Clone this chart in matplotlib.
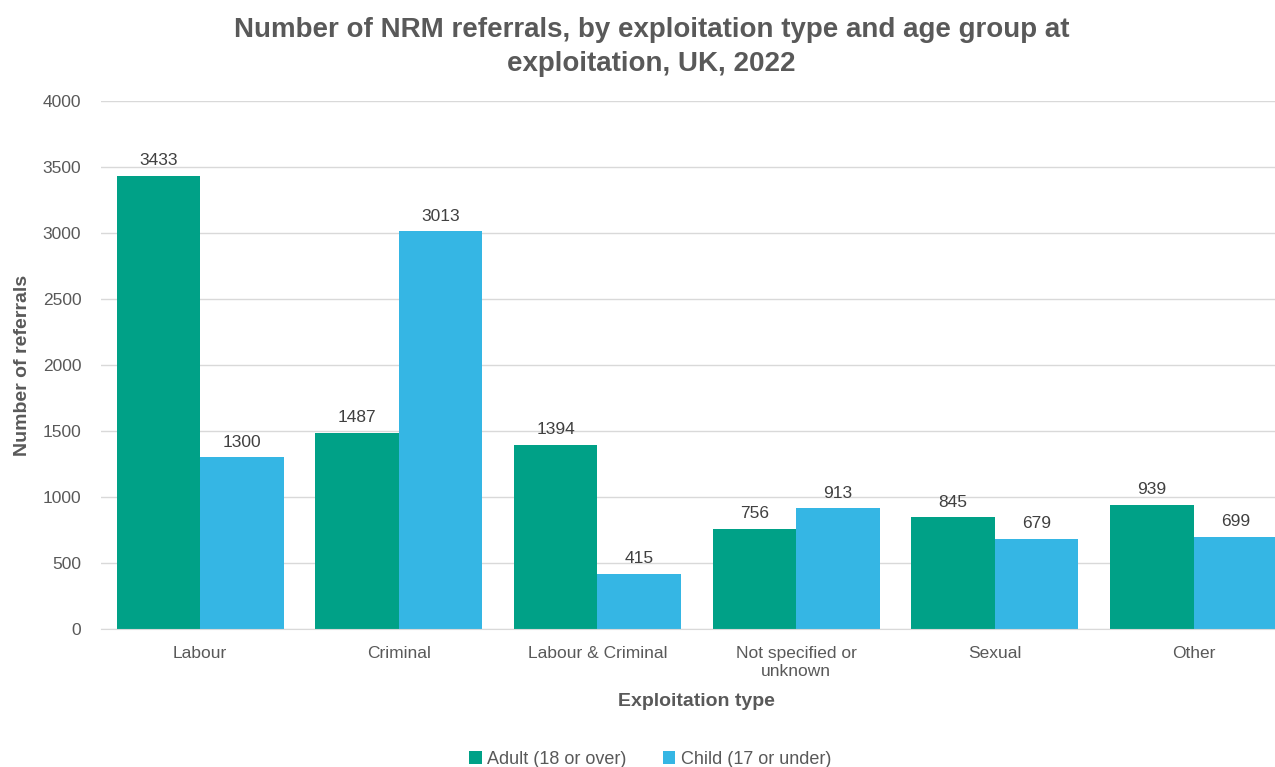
import numpy as np
import matplotlib
matplotlib.use("Agg")
import matplotlib.pyplot as plt

matplotlib.rcParams["font.family"] = ["Liberation Sans", "DejaVu Sans"]

categories = ["Labour", "Criminal", "Labour & Criminal", "Not specified or\nunknown", "Sexual", "Other"]
adult = [3433, 1487, 1394, 756, 845, 939]
child = [1300, 3013, 415, 913, 679, 699]

GREEN = "#00A187"
BLUE = "#35B6E4"
TXT = "#595959"

fig = plt.figure(figsize=(12.75, 7.67), dpi=100)
ax = fig.add_axes([0.079, 0.18, 0.935, 0.688])

x = np.arange(len(categories))
w = 0.42
b1 = ax.bar(x - w / 2, adult, w, color=GREEN, label="Adult (18 or over)")
b2 = ax.bar(x + w / 2, child, w, color=BLUE, label="Child (17 or under)")

for bars, vals in [(b1, adult), (b2, child)]:
    for r, v in zip(bars, vals):
        ax.text(r.get_x() + r.get_width() / 2, v + 60, str(v), ha="center", va="bottom",
                fontsize=12.5, color="#404040")

ax.set_xlim(-0.5, len(categories) - 0.5)
ax.set_ylim(0, 4000)
ax.set_yticks(range(0, 4001, 500))
ax.yaxis.grid(True, color="#D9D9D9", linewidth=1)
ax.set_axisbelow(True)
for s in ["top", "right", "left"]:
    ax.spines[s].set_visible(False)
ax.spines["bottom"].set_color("#D9D9D9")
ax.tick_params(axis="y", length=0, labelsize=12.5, colors=TXT, pad=14)
ax.tick_params(axis="x", length=0, labelsize=12.5, colors=TXT, pad=12)
ax.set_xticks(x)
ax.set_xticklabels(categories, linespacing=1.3)

ax.set_xlabel("Exploitation type", fontsize=14, fontweight="bold", color=TXT, labelpad=10)
ax.set_ylabel("Number of referrals", fontsize=14, fontweight="bold", color=TXT, labelpad=8)

fig.suptitle("Number of NRM referrals, by exploitation type and age group at\nexploitation, UK, 2022",
             x=0.511, y=0.978, fontsize=20, fontweight="bold", color=TXT, linespacing=1.4)

fig.legend(loc="lower center", bbox_to_anchor=(0.51, -0.022), ncol=2, frameon=False,
           fontsize=13, labelcolor=TXT, handlelength=0.7, handleheight=0.7,
           handletextpad=0.3, columnspacing=2.0)

fig.savefig("out.png", dpi=100)
